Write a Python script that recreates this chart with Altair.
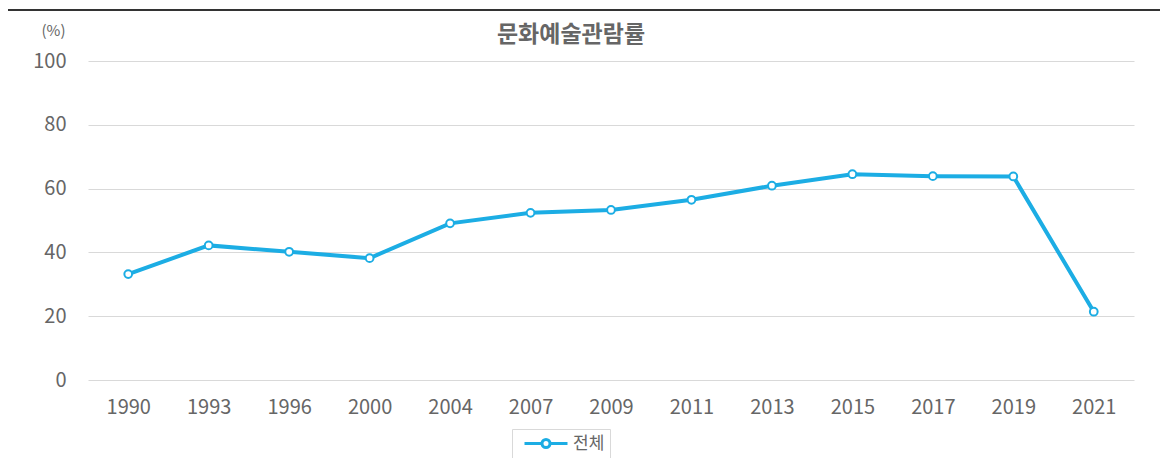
import altair as alt
import pandas as pd

years = ["1990", "1993", "1996", "2000", "2004", "2007", "2009", "2011", "2013", "2015", "2017", "2019", "2021"]
rates = [33.2, 42.2, 40.2, 38.2, 49.1, 52.4, 53.3, 56.5, 60.9, 64.5, 63.9, 63.8, 21.4]
series = ["전체"] * len(years)
y_ticks = [0, 20, 40, 60, 80, 100]

BLUE = "#1cade4"
GRAY = "#666666"
FONT = "Noto Sans CJK KR"

df = pd.DataFrame({"year": years, "rate": rates, "series": series})

x_enc = alt.X("year:N", sort=years,
              scale=alt.Scale(type="point", padding=0.5),
              axis=alt.Axis(title=None, labelAngle=0, grid=False, domain=False, ticks=False,
                            tickSize=0, labelPadding=17, labelFontSize=20, labelColor=GRAY,
                            labelFont=FONT))
y_enc = alt.Y("rate:Q", scale=alt.Scale(domain=[0, 100], nice=False, zero=True),
              axis=alt.Axis(title="(%)", values=y_ticks, grid=True, gridColor="#d9d9d9",
                            gridWidth=1, domain=False, ticks=False, tickSize=0,
                            labelPadding=22, labelFontSize=20, labelColor=GRAY, labelFont=FONT,
                            titleAngle=0, titleX=-35, titleY=-31, titleAlign="center",
                            titleBaseline="middle", titleFontSize=15, titleFontWeight="normal",
                            titleColor=GRAY, titleFont=FONT))

legend_path = ("M-0.25,0L1.9375,0M2.9375,0L5.125,0"
               "M1.9375,0A0.5,0.5,0,1,1,2.9375,0A0.5,0.5,0,1,1,1.9375,0Z")

line = alt.Chart(df).mark_line(strokeWidth=4).encode(
    x=x_enc, y=y_enc,
    color=alt.Color("series:N", scale=alt.Scale(domain=["전체"], range=[BLUE]),
                    legend=alt.Legend(title=None, orient="none", legendX=424, legendY=368,
                                      symbolType=legend_path, symbolSize=256,
                                      symbolStrokeWidth=3, symbolFillColor="white",
                                      symbolStrokeColor=BLUE, labelOffset=37,
                                      labelFontSize=17, labelColor=GRAY, labelFont=FONT,
                                      padding=5, strokeColor="#d9d9d9", fillColor="white")),
)

points = alt.Chart(df).mark_point(filled=True, fill="white", stroke=BLUE, strokeWidth=2,
                                  size=60, opacity=1).encode(x=x_enc, y=y_enc)

top_rule = alt.Chart(pd.DataFrame({"k": [0]})).mark_rule(color="#333333", strokeWidth=2).encode(
    x=alt.value(-83), x2=alt.value(1080), y=alt.value(-51)
)

chart = alt.layer(top_rule, line, points).properties(
    width=1046, height=319,
    title=alt.TitleParams("문화예술관람률", anchor="middle", frame="group", dx=-40, offset=0,
                          dy=38, fontSize=23, fontWeight="bold", color=GRAY, font=FONT),
    autosize=alt.AutoSizeParams(type="none"),
    padding={"left": 80, "top": 53, "right": 26, "bottom": 78},
).configure(background="white").configure_view(strokeWidth=0, stroke=None)

chart.save("out.html", embed_options={"renderer": "svg", "actions": False})
